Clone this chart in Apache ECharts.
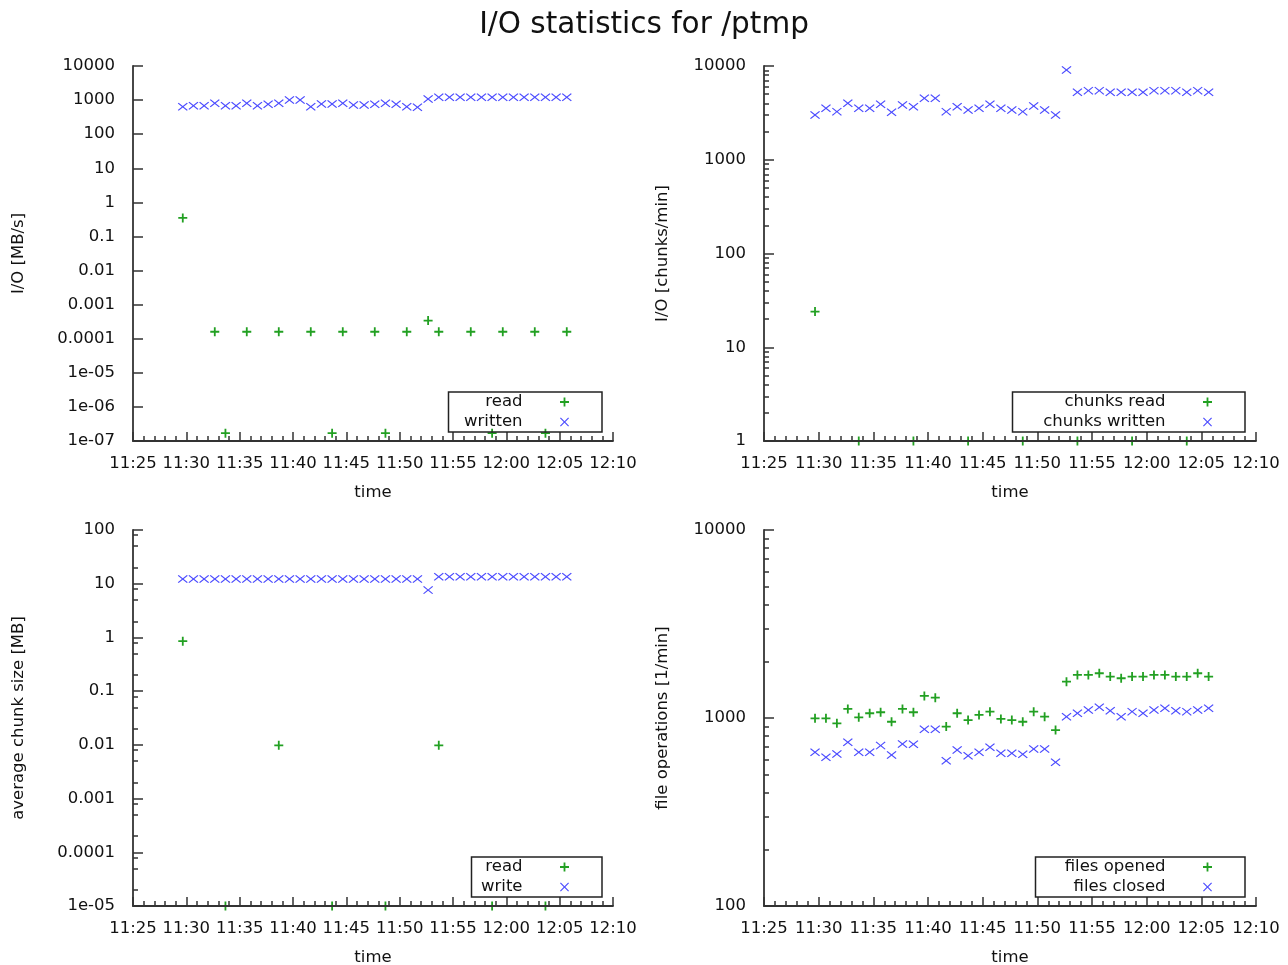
<!DOCTYPE html>
<html>
<head>
<meta charset="utf-8">
<script src="https://cdn.jsdelivr.net/npm/echarts@6/dist/echarts.min.js"></script>
<style>
html,body{margin:0;padding:0;background:#fff;}
#c{width:1288px;height:965px;}
</style>
</head>
<body>
<div id="c"></div>
<script>
// ---- data ----
const times = ['11:29:40','11:30:40','11:31:40','11:32:40','11:33:40','11:34:40','11:35:40','11:36:40','11:37:40','11:38:40',
  '11:39:40','11:40:40','11:41:40','11:42:40','11:43:40','11:44:40','11:45:40','11:46:40','11:47:40','11:48:40',
  '11:49:40','11:50:40','11:51:40','11:52:40','11:53:40','11:54:40','11:55:40','11:56:40','11:57:40','11:58:40',
  '11:59:40','12:00:40','12:01:40','12:02:40','12:03:40','12:04:40','12:05:40'];

// panel 1: I/O [MB/s]
const ioRead = [0.35,null,null,1.6e-4,1.7e-7,null,1.6e-4,null,null,1.6e-4,
  null,null,1.6e-4,null,1.7e-7,1.6e-4,null,null,1.6e-4,1.7e-7,
  null,1.6e-4,null,3.4e-4,1.6e-4,null,null,1.6e-4,null,1.7e-7,
  1.6e-4,null,null,1.6e-4,1.7e-7,null,1.6e-4];
const ioWritten = [641,686,686,803,686,686,803,686,751,803,
  1007,1007,641,768,768,803,718,718,751,803,
  751,641,613,1077,1205,1205,1205,1205,1205,1205,
  1205,1205,1205,1205,1205,1205,1205];

// panel 2: I/O [chunks/min]
const chunksRead = [24,null,null,null,1,null,null,null,null,1,
  null,null,null,null,1,null,null,null,null,1,
  null,null,null,null,1,null,null,null,null,1,
  null,null,null,null,1,null,null];
const chunksWritten = [3000,3540,3260,4000,3540,3540,3900,3210,3840,3680,
  4520,4520,3260,3680,3400,3540,3900,3540,3400,3260,
  3740,3400,3000,9060,5240,5460,5460,5240,5240,5240,
  5240,5460,5460,5460,5240,5460,5240];

// panel 3: average chunk size [MB]
const sizeRead = [0.85,null,null,null,1e-5,null,null,null,null,0.0098,
  null,null,null,null,1e-5,null,null,null,null,1e-5,
  null,null,null,null,0.0098,null,null,null,null,1e-5,
  null,null,null,null,1e-5,null,null];
const sizeWrite = [12.2,12.2,12.2,12.2,12.2,12.2,12.2,12.2,12.2,12.2,
  12.2,12.2,12.2,12.2,12.2,12.2,12.2,12.2,12.2,12.2,
  12.2,12.2,12.2,7.6,13.5,13.5,13.5,13.5,13.5,13.5,
  13.5,13.5,13.5,13.5,13.5,13.5,13.5];

// panel 4: file operations [1/min]
const filesOpened = [996,996,937,1117,1008,1060,1073,955,1117,1073,
  1310,1283,900,1060,975,1038,1081,989,975,955,
  1081,1016,863,1560,1694,1694,1730,1660,1627,1660,
  1660,1694,1694,1660,1660,1730,1660];
const filesClosed = [657,618,644,743,657,657,713,636,728,725,
  871,871,593,676,630,657,699,649,649,641,
  684,684,581,1016,1060,1103,1141,1094,1016,1081,
  1060,1103,1128,1094,1081,1103,1128];

const xTickLabels = ['11:25','11:30','11:35','11:40','11:45','11:50','11:55','12:00','12:05','12:10'];

// ---- helpers ----
const FONT = 'DejaVu Sans';
const FS = 16.5;
const AX = '#333';
const GREEN = '#22a022';
const BLUE = '#4b4bff';
const PLUS = 'path://M4,0H6V4H10V6H6V10H4V6H0V4H4Z';
const CROSS = 'path://M0,0.9L0.9,0L5,4.1L9.1,0L10,0.9L5.9,5L10,9.1L9.1,10L5,5.9L0.9,10L0,9.1L4.1,5Z';

function toMin(t) {
  const p = t.split(':').map(Number);
  return p[0] * 60 + p[1] + p[2] / 60 - (11 * 60 + 25);
}
function pts(vals) {
  const out = [];
  vals.forEach((v, i) => { if (v != null) out.push([toMin(times[i]), v]); });
  return out;
}
function fmtLog(v) {
  const e = Math.round(Math.log10(v));
  if (e >= 0) return String(Math.pow(10, e));
  if (e >= -4) return Math.pow(10, e).toFixed(-e);
  return '1e-0' + (-e);
}
function decades(lo, hi) { const a = []; for (let e = lo; e <= hi; e++) a.push(Math.pow(10, e)); return a; }
function minors(lo, hi, ms) { const a = []; for (let e = lo; e < hi; e++) ms.forEach(m => a.push(m * Math.pow(10, e))); return a; }

const grids = [
  {left: 133, top: 66, width: 480, height: 375, outerBoundsMode: 'none', containLabel: false},
  {left: 764, top: 66, width: 492, height: 375, outerBoundsMode: 'none', containLabel: false},
  {left: 133, top: 530, width: 480, height: 376, outerBoundsMode: 'none', containLabel: false},
  {left: 764, top: 530, width: 492, height: 376, outerBoundsMode: 'none', containLabel: false}
];

const xAxes = grids.map((g, i) => ({
  type: 'value', gridIndex: i, min: 0, max: 45, interval: 5,
  name: 'time', nameLocation: 'middle', nameGap: 43,
  nameTextStyle: {fontFamily: FONT, fontSize: FS, color: '#111'},
  axisLine: {show: true, lineStyle: {color: AX, width: 1.8}},
  axisTick: {show: true, inside: true, length: 9, lineStyle: {color: AX, width: 1.5}},
  minorTick: {show: true, splitNumber: 5, length: 5, lineStyle: {color: AX, width: 1.5}},
  splitLine: {show: false}, minorSplitLine: {show: false},
  axisLabel: {fontFamily: FONT, fontSize: FS, color: '#111', margin: 14, showMinLabel: true, showMaxLabel: true,
    formatter: v => xTickLabels[Math.round(v / 5)]},
  z: 3
}));

const yCfg = [
  {min: 1e-7, max: 1e4, lo: -7, hi: 4, name: 'I/O [MB/s]', gap: 106, minor: null},
  {min: 1, max: 1e4, lo: 0, hi: 4, name: 'I/O [chunks/min]', gap: 93, minor: [2,3,4,5,6,7,8,9]},
  {min: 1e-5, max: 100, lo: -5, hi: 2, name: 'average chunk size [MB]', gap: 106, minor: [2,5,8]},
  {min: 100, max: 1e4, lo: 2, hi: 4, name: 'file operations [1/min]', gap: 93, minor: [2,3,4,5,6,7,8,9]}
];

const yAxes = [];
yCfg.forEach((c, i) => {
  const majors = decades(c.lo, c.hi);
  yAxes.push({
    type: 'log', logBase: 10, gridIndex: i, min: c.min, max: c.max, interval: 1,
    name: c.name, nameLocation: 'middle', nameGap: c.gap,
    nameTextStyle: {fontFamily: FONT, fontSize: FS, color: '#111'},
    axisLine: {show: true, lineStyle: {color: AX, width: 1.8}},
    axisTick: {show: true, inside: true, length: 10, lineStyle: {color: AX, width: 1.5}, customValues: majors},
    axisLabel: {fontFamily: FONT, fontSize: FS, color: '#111', margin: 18, customValues: majors,
      padding: [5, 0, 0, 0],
      showMinLabel: true, showMaxLabel: true, formatter: v => fmtLog(v)},
    splitLine: {show: false},
    z: 3
  });
});
yCfg.forEach((c, i) => {
  if (!c.minor) return;
  yAxes.push({
    type: 'log', logBase: 10, gridIndex: i, min: c.min, max: c.max, position: 'left', offset: 0,
    axisLine: {show: false},
    axisTick: {show: true, inside: true, length: 5, lineStyle: {color: AX, width: 1.5}, customValues: minors(c.lo, c.hi, c.minor)},
    axisLabel: {show: false},
    splitLine: {show: false},
    z: 3
  });
});

function scatter(name, idx, vals, green) {
  return {
    type: 'scatter', name: name, xAxisIndex: idx, yAxisIndex: idx, data: pts(vals),
    symbol: green ? PLUS : CROSS, symbolSize: green ? 9 : [10, 8],
    itemStyle: {color: green ? GREEN : BLUE, opacity: 1},
    clip: false, emphasis: {disabled: true}, silent: true
  };
}

const series = [
  scatter('read', 0, ioRead, true), scatter('written', 0, ioWritten, false),
  scatter('chunks read', 1, chunksRead, true), scatter('chunks written', 1, chunksWritten, false),
  scatter('read', 2, sizeRead, true), scatter('write', 2, sizeWrite, false),
  scatter('files opened', 3, filesOpened, true), scatter('files closed', 3, filesClosed, false)
];

function legend(names, rightEdge, bottomEdge, textW) {
  return {
    data: names, orient: 'vertical', align: 'right',
    right: 1288 - rightEdge, bottom: 965 - bottomEdge,
    itemWidth: 74, itemHeight: 9, itemGap: 3, padding: [1.5, 33, 1.5, 0],
    borderColor: '#222', borderWidth: 1.5, selectedMode: false,
    formatter: '{t|{name}}',
    textStyle: {fontFamily: FONT, fontSize: FS, color: '#111',
      rich: {t: {width: textW, align: 'right', fontFamily: FONT, fontSize: FS, color: '#111', lineHeight: 20}}}
  };
}

const option = {
  animation: false,
  backgroundColor: '#fff',
  title: {text: 'I/O statistics for /ptmp', left: 'center', top: 5,
    textStyle: {fontFamily: FONT, fontSize: 29.5, fontWeight: 'normal', color: '#111'}},
  grid: grids,
  xAxis: xAxes,
  yAxis: yAxes,
  legend: [
    legend(['read', 'written'], 602, 432, 74),
    legend(['chunks read', 'chunks written'], 1245, 432, 153),
    legend(['read', 'write'], 602, 897, 51),
    legend(['files opened', 'files closed'], 1245, 897, 130)
  ],
  series: series
};

const chart = echarts.init(document.getElementById('c'), null, {renderer: 'canvas'});
chart.setOption(option);
</script>
</body>
</html>
